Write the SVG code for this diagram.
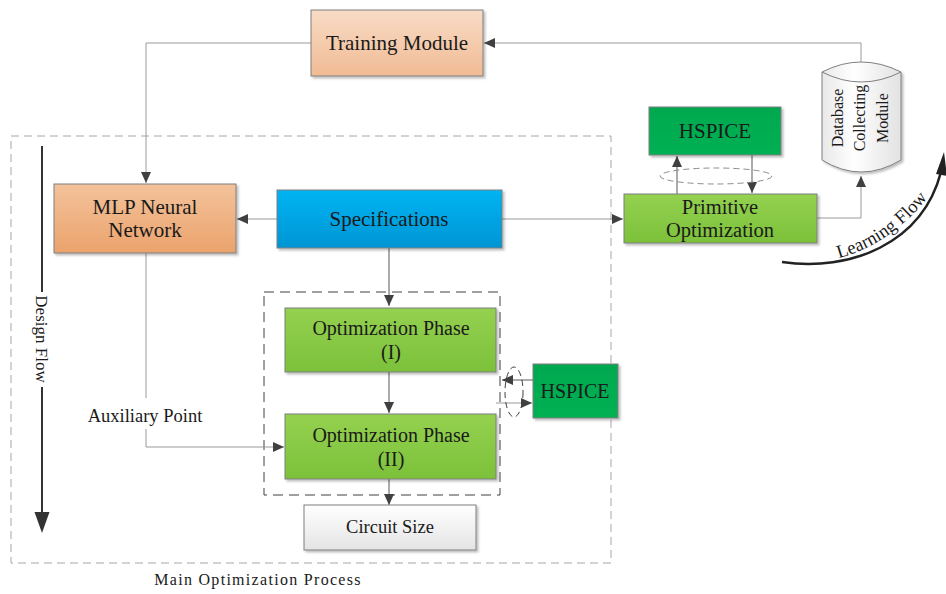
<svg xmlns="http://www.w3.org/2000/svg" width="946" height="594" viewBox="0 0 946 594">
<style>
.t{font-family:"Liberation Serif","Times New Roman",serif;fill:#1a1a1a;text-anchor:middle}
.box{stroke:#7f7f7f;stroke-width:1;filter:url(#sh)}
.ln{fill:none;stroke:#9a9a9a;stroke-width:1}
.dk{fill:none;stroke:#595959;stroke-width:1}
</style>
<defs>
<filter id="sh" x="-10%" y="-10%" width="130%" height="140%"><feDropShadow dx="2" dy="2" stdDeviation="1.2" flood-color="#000" flood-opacity="0.25"/></filter>
<linearGradient id="gTr" x1="0" y1="0" x2="0" y2="1"><stop offset="0" stop-color="#f8dcc6"/><stop offset="1" stop-color="#f1bb94"/></linearGradient>
<linearGradient id="gMlp" x1="0" y1="0" x2="0" y2="1"><stop offset="0" stop-color="#f3c29b"/><stop offset="1" stop-color="#eba36c"/></linearGradient>
<linearGradient id="gSp" x1="0" y1="0" x2="0" y2="1"><stop offset="0" stop-color="#00b4f2"/><stop offset="1" stop-color="#0095d4"/></linearGradient>
<linearGradient id="gGr" x1="0" y1="0" x2="0" y2="1"><stop offset="0" stop-color="#94d150"/><stop offset="1" stop-color="#7cc13a"/></linearGradient>
<linearGradient id="gHs" x1="0" y1="0" x2="0" y2="1"><stop offset="0" stop-color="#00a850"/><stop offset="1" stop-color="#00b152"/></linearGradient>
<linearGradient id="gCs" x1="0" y1="0" x2="0" y2="1"><stop offset="0" stop-color="#ffffff"/><stop offset="1" stop-color="#e4e4e4"/></linearGradient>
<linearGradient id="gCy" x1="0" y1="0" x2="1" y2="0"><stop offset="0" stop-color="#e8e8e8"/><stop offset="0.4" stop-color="#ffffff"/><stop offset="1" stop-color="#e2e2e2"/></linearGradient>
<marker id="ar" markerWidth="11" markerHeight="10" refX="11" refY="5" orient="auto" markerUnits="userSpaceOnUse"><path d="M0,0 L11,5 L0,10 z" fill="#404040"/></marker>
<marker id="arB" markerWidth="16" markerHeight="22" refX="20" refY="8" orient="auto" markerUnits="userSpaceOnUse" viewBox="0 0 20 16"><path d="M0,0 L20,8 L0,16 z" fill="#333"/></marker>
</defs>
<rect width="946" height="594" fill="#fff"/>

<!-- containers -->
<g id="main-process">
<rect x="11" y="136" width="600" height="427" fill="none" stroke="#a6a6a6" stroke-dasharray="8 5"/>
<text class="t" x="258" y="585" font-size="16" letter-spacing="1.3" fill="#333">Main Optimization Process</text>
</g>
<g id="phase-group">
<rect x="264" y="292" width="236" height="203" fill="none" stroke="#404040" stroke-dasharray="10 6"/>
</g>

<!-- connectors -->
<g id="connectors">
<path class="ln" d="M311 43 H146 V183" marker-end="url(#ar)"/>
<path class="ln" d="M861 62 V43 H484" marker-end="url(#ar)"/>
<path class="ln" d="M277 219 H237" stroke="#808080" marker-end="url(#ar)"/>
<path class="ln" d="M502 219 H623" stroke="#808080" marker-end="url(#ar)"/>
<path class="dk" d="M677 194 V156" marker-end="url(#ar)"/>
<path class="dk" d="M752 155 V193" marker-end="url(#ar)"/>
<path class="ln" d="M817 218 H861 V176" stroke="#808080" marker-end="url(#ar)"/>
<path class="dk" d="M389 248 V306" marker-end="url(#ar)"/>
<path class="dk" d="M389 372 V413" marker-end="url(#ar)"/>
<path class="dk" d="M389 479 V505" marker-end="url(#ar)"/>
<path class="ln" d="M146 253 V398"/>
<path class="ln" d="M146 429 V447 H284" stroke="#808080" marker-end="url(#ar)"/>
<path class="dk" d="M533 380 H502" marker-end="url(#ar)"/>
<path class="ln" d="M496 403 H532" stroke="#808080" marker-end="url(#ar)"/>
<ellipse cx="716" cy="176" rx="56" ry="8" fill="none" stroke="#8c8c8c" stroke-dasharray="6 4"/>
<ellipse cx="514" cy="392" rx="9" ry="25" fill="none" stroke="#404040" stroke-dasharray="6 4"/>
<!-- design flow -->
<path d="M42 146 V292 M42 387 V514" fill="none" stroke="#333" stroke-width="2"/>
<path d="M34.5 512 L49.5 512 L42 533 z" fill="#333"/>
<text class="t" font-size="17" transform="translate(42,339) rotate(90)" x="0" y="6">Design Flow</text>
<!-- learning flow -->
<path d="M782 262 C850 272 922 244 941 172" fill="none" stroke="#222" stroke-width="2.5"/>
<path d="M936 174 L944 152 L947 176 z" fill="#222"/>
<path id="lfp" d="M822 262 Q892 250 938 184" fill="none"/>
<text class="t" font-size="18.5"><textPath href="#lfp" startOffset="50%">Learning Flow</textPath></text>
<text class="t" x="145" y="422" font-size="18.5">Auxiliary Point</text>
</g>

<!-- nodes -->
<g id="training-module">
<rect class="box" x="311" y="10" width="172" height="66" fill="url(#gTr)"/>
<text class="t" x="397" y="50" font-size="21">Training Module</text>
</g>
<g id="mlp">
<rect class="box" x="54" y="184" width="182" height="69" fill="url(#gMlp)"/>
<text class="t" x="145" y="214" font-size="21">MLP Neural</text>
<text class="t" x="145" y="237" font-size="21">Network</text>
</g>
<g id="specifications">
<rect class="box" x="277" y="190" width="225" height="58" fill="url(#gSp)"/>
<text class="t" x="389" y="226" font-size="21">Specifications</text>
</g>
<g id="hspice-top">
<rect class="box" x="649" y="107" width="132" height="48" fill="url(#gHs)" stroke="#4d4d4d"/>
<text class="t" x="715" y="138" font-size="21">HSPICE</text>
</g>
<g id="primitive-optimization">
<rect class="box" x="624" y="194" width="193" height="49" fill="url(#gGr)"/>
<text class="t" x="720" y="214" font-size="20.5">Primitive</text>
<text class="t" x="720" y="237" font-size="20.5">Optimization</text>
</g>
<g id="database">
<path d="M822 72 Q861 52 901 72 V160 Q861 184 822 160 Z" fill="url(#gCy)" stroke="#7f7f7f" filter="url(#sh)"/>
<path d="M822 72 Q861 92 901 72" fill="none" stroke="#7f7f7f"/>
<text class="t" font-size="16" transform="translate(861,118) rotate(-90)"><tspan x="0" y="-18.5">Database</tspan><tspan x="0" y="4">Collecting</tspan><tspan x="0" y="26.5">Module</tspan></text>
</g>
<g id="opt-phase-1">
<rect class="box" x="285" y="308" width="211" height="64" fill="url(#gGr)"/>
<text class="t" x="391" y="335" font-size="20">Optimization Phase</text>
<text class="t" x="391" y="359" font-size="20">(I)</text>
</g>
<g id="opt-phase-2">
<rect class="box" x="285" y="414" width="211" height="65" fill="url(#gGr)"/>
<text class="t" x="391" y="442" font-size="20">Optimization Phase</text>
<text class="t" x="391" y="466" font-size="20">(II)</text>
</g>
<g id="hspice-right">
<rect class="box" x="533" y="364" width="85" height="54" fill="url(#gHs)" stroke="#4d4d4d"/>
<text class="t" x="575" y="398" font-size="20">HSPICE</text>
</g>
<g id="circuit-size">
<rect class="box" x="304" y="505" width="172" height="45" fill="url(#gCs)"/>
<text class="t" x="390" y="533" font-size="18.5">Circuit Size</text>
</g>
</svg>
